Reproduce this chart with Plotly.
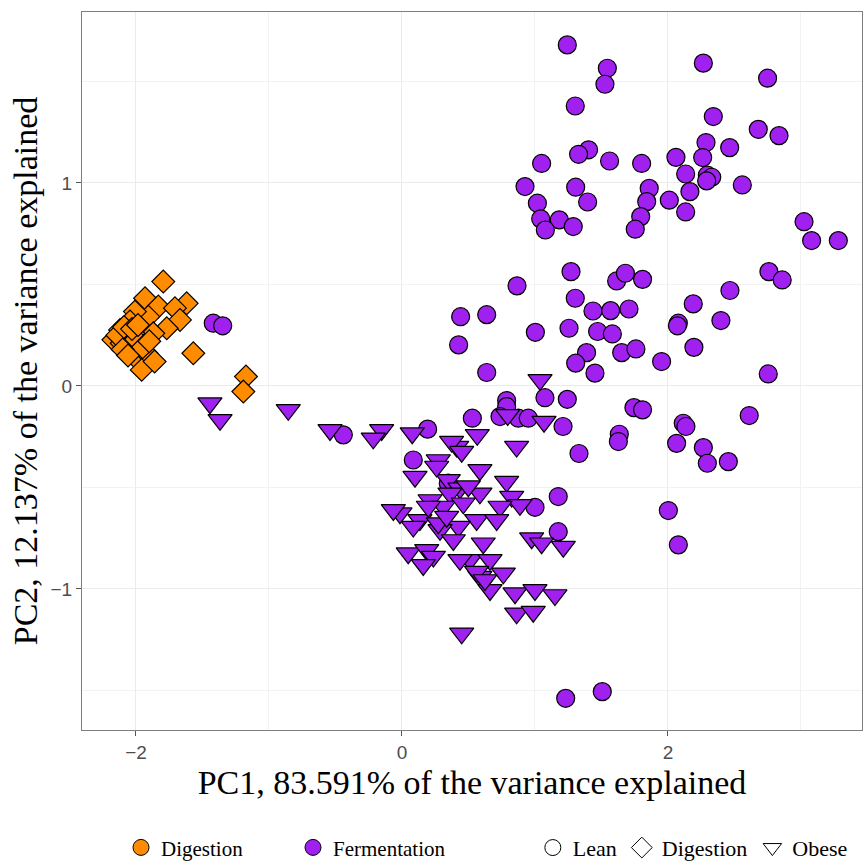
import plotly.graph_objects as go

# Digestion group (orange diamonds)
dig_x = [-1.795, -1.619, -1.932, -1.832, -1.707, -1.669, -1.907, -1.769, -1.870, -2.008,
         -2.045, -2.120, -2.170, -2.070, -2.008, -1.920, -1.957, -1.970, -2.108, -1.569,
         -1.173, -1.193, -2.020, -2.070, -2.140, -2.090, -2.050, -2.000, -1.950, -2.100,
         -2.030, -1.985, -2.060, -1.900, -1.860]
dig_y = [0.514, 0.407, 0.432, 0.391, 0.383, 0.325, 0.341, 0.284, 0.259, 0.366,
         0.317, 0.276, 0.227, 0.194, 0.144, 0.161, 0.079, 0.218, 0.210, 0.161,
         0.046, -0.028, 0.259, 0.243, 0.250, 0.290, 0.200, 0.230, 0.190, 0.180,
         0.280, 0.300, 0.150, 0.220, 0.120]

# Fermentation, Lean (purple circles)
lean_x = [1.243, 1.544, 1.526, 1.303, 2.266, 2.749, 2.341, 2.679, 2.835, 2.464,
          2.286, 2.261, 2.060, 2.133, 2.296, 2.329, 2.291, 2.165, 2.559, 2.010,
          2.133, 1.859, 1.840, 1.795, 1.754, 1.802, 1.561, 1.403, 1.328, 1.050,
          0.925, 1.306, 1.396, 1.018, 1.043, 1.183, 1.078, 1.288, 3.023, 3.080,
          3.281, 1.271, 0.865, 1.614, 1.680, 1.809, 2.759, 2.859, 2.466, 2.190,
          1.303, 1.436, 1.569, 1.707, 0.441, 0.637, 0.426, 1.003, 1.256, 1.471,
          1.582, 2.078, 2.071, 2.398, 2.195, 1.388, 1.652, 1.759, 1.952, 1.306,
          0.637, 1.451, 2.754, 1.075, 1.243, 1.744, 1.809, 2.611, 2.115, 2.135,
          1.211, 1.634, 1.627, 2.065, 2.266, 2.296, 2.454, 1.331, 0.529, 0.193,
          0.787, 0.787, 0.737, 0.875, 0.950, 0.085, 1.175, 1.000, 1.175, 2.003,
          2.078, 1.231, 1.506, -1.419, -1.348, -0.441, 0.348]
lean_y = [1.680, 1.565, 1.486, 1.379, 1.590, 1.516, 1.327, 1.264, 1.233, 1.174,
          1.199, 1.125, 1.126, 1.044, 1.038, 1.028, 1.010, 0.957, 0.990, 0.915,
          0.857, 0.973, 0.908, 0.834, 0.772, 1.096, 1.108, 1.163, 1.141, 1.096,
          0.982, 0.979, 0.906, 0.900, 0.823, 0.818, 0.768, 0.785, 0.809, 0.716,
          0.716, 0.563, 0.493, 0.517, 0.555, 0.525, 0.563, 0.522, 0.470, 0.404,
          0.432, 0.369, 0.371, 0.379, 0.341, 0.351, 0.202, 0.264, 0.284, 0.268,
          0.256, 0.309, 0.296, 0.322, 0.190, 0.164, 0.164, 0.182, 0.120, 0.112,
          0.066, 0.063, 0.059, -0.058, -0.066, -0.107, -0.118, -0.146, -0.184, -0.200,
          -0.200, -0.238, -0.274, -0.283, -0.304, -0.381, -0.373, -0.333, -0.159, -0.213,
          -0.072, -0.102, -0.151, -0.159, -0.159, -0.365, -0.545, -0.598, -0.718, -0.614,
          -0.783, -1.539, -1.506, 0.309, 0.296, -0.241, -0.479]

# Fermentation, Obese (purple triangles)
obese_x = [1.038, 0.795, 1.068, 0.077, 0.566, 0.862, 0.975, 1.050, 1.213, 0.850,
           1.000, 1.150, 0.862, 0.987, 0.449, -0.153, -1.444, -1.368, -0.855, -0.541,
           -0.216, 0.411, 0.373, 0.273, 0.098, 0.586, 0.348, 0.436, 0.361, 0.211,
           0.787, 0.825, 0.887, 0.737, 0.586, -0.015, 0.135, 0.311, 0.461, 0.561,
           0.424, 0.286, 0.047, 0.186, 0.386, 0.611, 0.511, 0.436, 0.662, 0.762,
           0.586, 0.662, 0.236, 0.712, 0.085, 0.273, 0.449, 0.261, 0.499, 0.336,
           0.198, -0.065, 0.160, 0.561, 0.624]
obese_y = [0.030, -0.143, -0.176, -0.233, -0.241, -0.299, -0.750, -0.775, -0.792, -1.021,
           -1.005, -1.030, -1.120, -1.112, -1.219, -0.217, -0.085, -0.167, -0.118, -0.217,
           -0.258, -0.299, -0.274, -0.365, -0.447, -0.414, -0.463, -0.504, -0.529, -0.562,
           -0.471, -0.545, -0.586, -0.594, -0.529, -0.627, -0.660, -0.594, -0.578, -0.660,
           -0.693, -0.709, -0.824, -0.808, -0.759, -0.775, -0.857, -0.857, -0.857, -0.923,
           -0.939, -1.005, -0.841, -0.660, -0.693, -0.676, -0.324, -0.397, -0.494, -0.644,
           -0.594, -0.611, -0.882, -0.915, -0.956]

ORANGE = "#FF8C00"
PURPLE = "#A020F0"
SERIF = "Liberation Serif, DejaVu Serif, serif"
SANS = "Liberation Sans Narrow, Liberation Sans, Arial, sans-serif"

fig = go.Figure()

fig.add_trace(go.Scatter(x=dig_x, y=dig_y, mode="markers", showlegend=False,
                         marker=dict(symbol="diamond", size=17.5, color=ORANGE,
                                     line=dict(color="black", width=1.2))))
fig.add_trace(go.Scatter(x=lean_x, y=lean_y, mode="markers", showlegend=False,
                         marker=dict(symbol="circle", size=18, color=PURPLE,
                                     line=dict(color="black", width=1.2))))
fig.add_trace(go.Scatter(x=obese_x, y=obese_y, mode="markers", showlegend=False,
                         marker=dict(symbol="triangle-down", size=21, color=PURPLE,
                                     line=dict(color="black", width=1.2))))

# legend entries: colour
for name, col in [("Digestion", ORANGE), ("Fermentation", PURPLE)]:
    fig.add_trace(go.Scatter(x=[None], y=[None], mode="markers", name=name, legend="legend",
                             marker=dict(symbol="circle", size=16, color=col,
                                         line=dict(color="black", width=1))))
# legend entries: shape
for name, sym in [("Lean", "circle-open"), ("Digestion", "diamond-open"), ("Obese", "triangle-down-open")]:
    fig.add_trace(go.Scatter(x=[None], y=[None], mode="markers", name=name, legend="legend2",
                             marker=dict(symbol=sym, size=16, color="black",
                                         line=dict(color="black", width=1))))

axis_common = dict(
    showline=True, linecolor="#7f7f7f", linewidth=1.3, mirror=True,
    showgrid=True, gridcolor="#ebebeb", gridwidth=1.2, zeroline=False,
    ticks="outside", ticklen=5, tickcolor="#555555", tickwidth=1.2,
    tickfont=dict(family=SANS, size=19, color="#4d4d4d"),
    automargin=False,
)

fig.update_layout(
    width=863, height=861,
    margin=dict(l=82, r=1, t=12, b=131, autoexpand=False),
    plot_bgcolor="white", paper_bgcolor="white",
    xaxis=dict(range=[-2.406, 3.459], tickvals=[-2, 0, 2], **axis_common,
               minor=dict(tickvals=[-1, 1, 3], showgrid=True, gridcolor="#f2f2f2", ticks=""),
               title=dict(text="PC1, 83.591% of the variance explained",
                          font=dict(family=SERIF, size=34, color="black"), standoff=8)),
    yaxis=dict(range=[-1.695, 1.842], tickvals=[-1, 0, 1], **axis_common,
               minor=dict(tickvals=[-1.5, -0.5, 0.5, 1.5], showgrid=True, gridcolor="#f2f2f2", ticks=""),
               title=dict(text="PC2, 12.137% of the variance explained",
                          font=dict(family=SERIF, size=34, color="black"), standoff=2)),
    legend=dict(orientation="h", x=0.05, xanchor="left", y=-0.164, yanchor="middle",
                font=dict(family=SERIF, size=21, color="black"), entrywidth=127,
                bgcolor="rgba(0,0,0,0)"),
    legend2=dict(orientation="h", x=0.578, xanchor="left", y=-0.164, yanchor="middle",
                 font=dict(family=SERIF, size=22, color="black"),
                 bgcolor="rgba(0,0,0,0)"),
)

fig.write_html("out.html")
